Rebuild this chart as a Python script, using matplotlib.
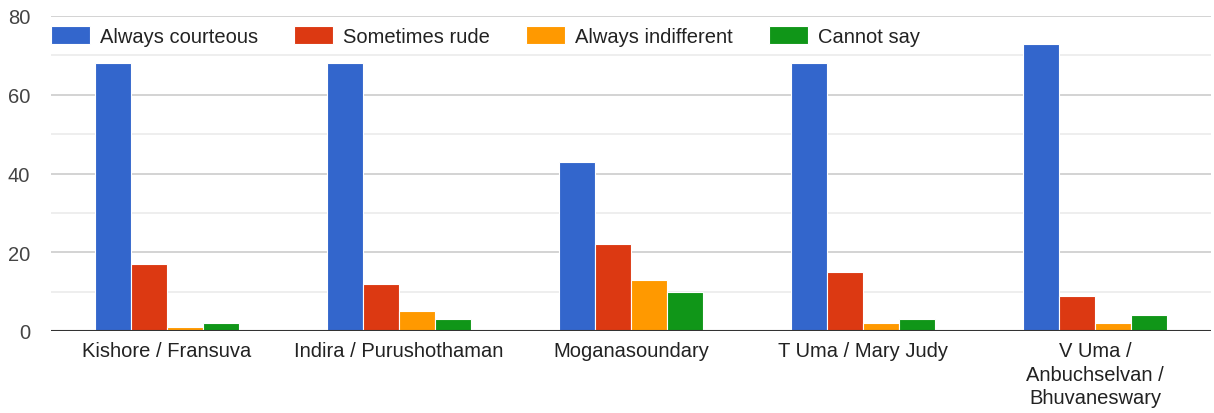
import numpy as np
import matplotlib.pyplot as plt
from matplotlib.ticker import MultipleLocator

staff = ["Kishore / Fransuva", "Indira / Purushothaman", "Moganasoundary",
         "T Uma / Mary Judy", "V Uma /\nAnbuchselvan /\nBhuvaneswary"]
responses = ["Always courteous", "Sometimes rude", "Always indifferent", "Cannot say"]
courteous = [68, 68, 43, 68, 73]
rude = [17, 12, 22, 15, 9]
indifferent = [1, 5, 13, 2, 2]
cannot_say = [2, 3, 10, 3, 4]

colors = ["#3366CC", "#DC3912", "#FF9900", "#109618"]

plt.rcParams['font.family'] = ['Liberation Sans', 'DejaVu Sans']

fig = plt.figure(figsize=(12.14, 4.14), dpi=100)
ax = fig.add_axes([51 / 1214, 82 / 414, 1160 / 1214, 315 / 414])

x = np.arange(len(staff))
w = 0.156
series = [courteous, rude, indifferent, cannot_say]
for i, vals in enumerate(series):
    ax.bar(x + (i - 1.5) * w, vals, w, color=colors[i], edgecolor='white',
           linewidth=0.8, label=responses[i], zorder=3)

ax.set_xlim(-0.5, 4.5)
ax.set_ylim(0, 80)
ax.yaxis.set_major_locator(MultipleLocator(20))
ax.yaxis.set_minor_locator(MultipleLocator(10))
ax.grid(axis='y', which='major', color='#cccccc', linewidth=1.2, zorder=0)
ax.grid(axis='y', which='minor', color='#ebebeb', linewidth=1.2, zorder=0)
ax.axhline(0, color='#333333', linewidth=1.5, zorder=4)

for s in ax.spines.values():
    s.set_visible(False)
ax.tick_params(axis='both', which='both', length=0)
ax.tick_params(axis='y', labelsize=14.5, labelcolor='#444444', pad=15)
ax.tick_params(axis='x', labelsize=14.5, labelcolor='#222222', pad=7)
ax.set_xticks(x)
ax.set_xticklabels(staff, linespacing=1.32, va='top')

leg = ax.legend(loc='upper left', bbox_to_anchor=(0.0, 0.968), ncol=4,
                frameon=False, fontsize=14.5, handlelength=1.93,
                handleheight=1.0, columnspacing=1.8, handletextpad=0.5,
                borderaxespad=0, borderpad=0)
for t in leg.get_texts():
    t.set_color('#222222')

plt.savefig('out.png', dpi=100)
